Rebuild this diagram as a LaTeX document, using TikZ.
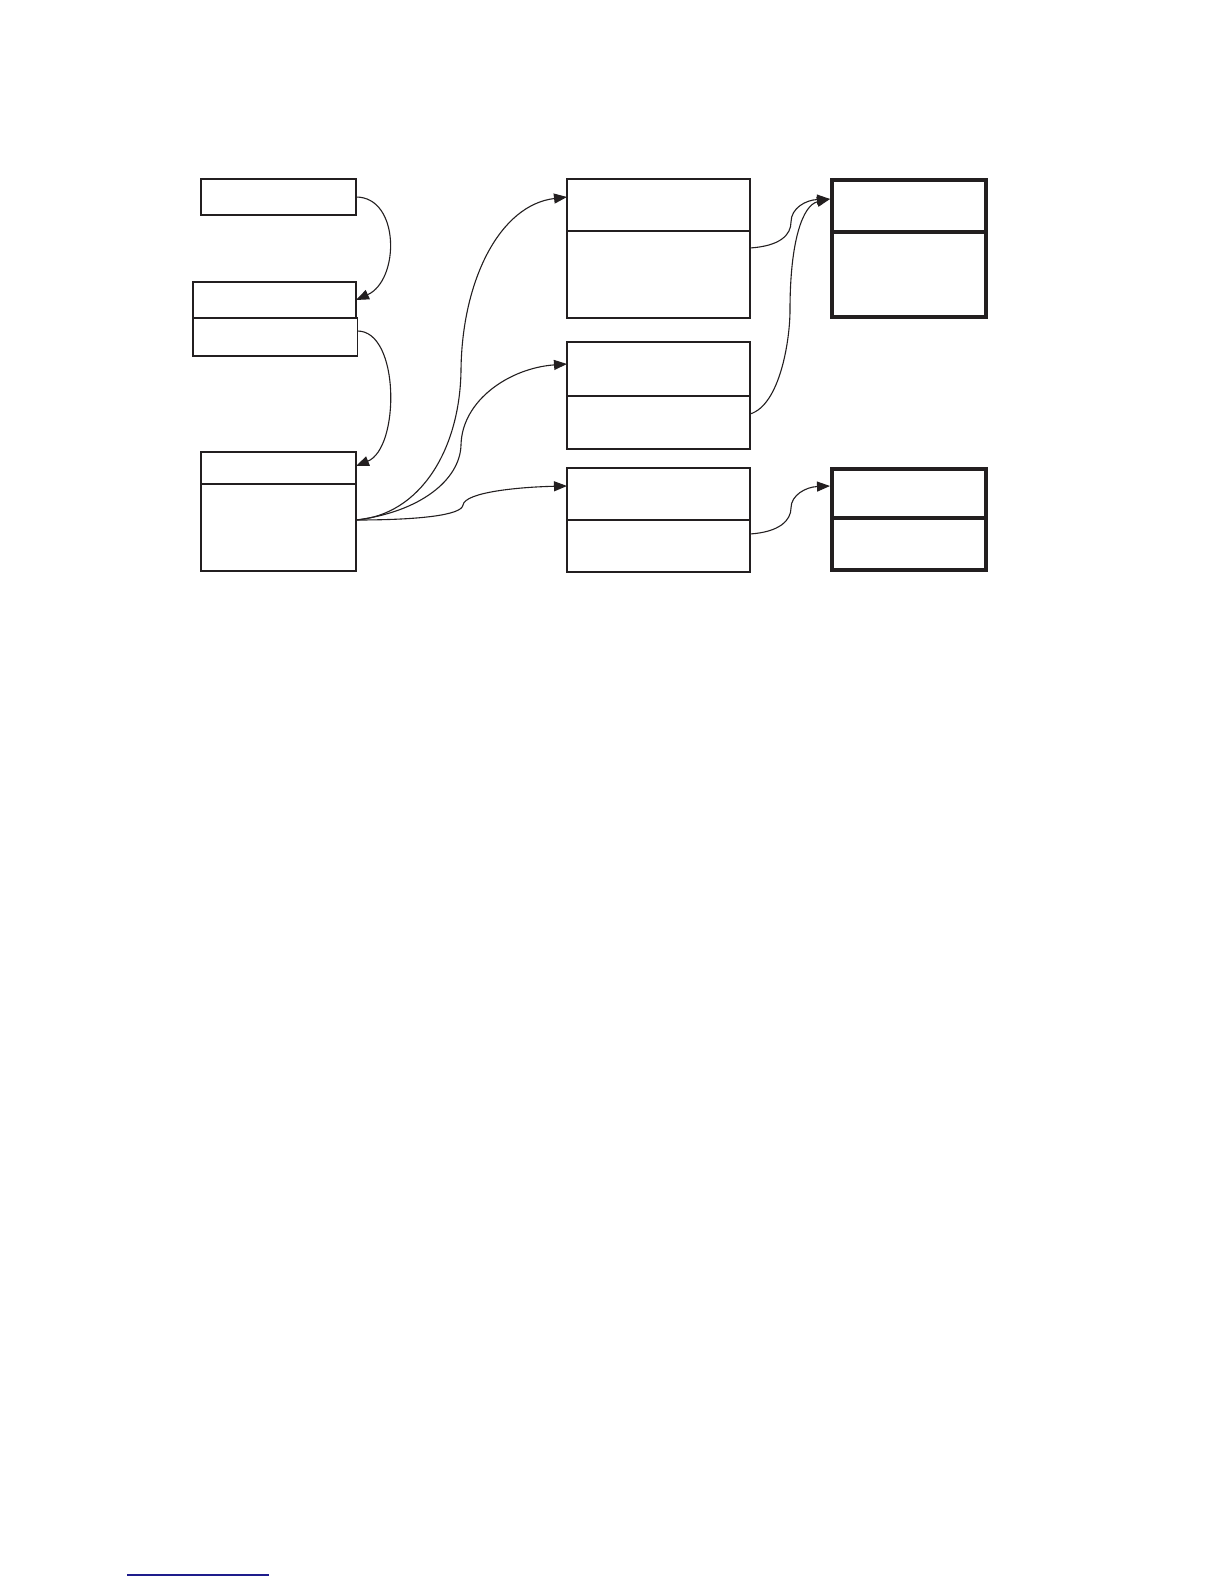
\documentclass[tikz,border=0pt]{standalone}
\usetikzlibrary{arrows.meta,calc}
\definecolor{ink}{RGB}{35,31,32}
\definecolor{rule}{RGB}{30,28,140}
\begin{document}
\begin{tikzpicture}[x=1pt,y=-1pt,
  box/.style={draw=ink,line width=1.4pt,inner sep=0pt,outer sep=0pt},
  thickbox/.style={draw=ink,line width=4.5pt,inner sep=0pt,outer sep=0pt},
  link/.style={draw=ink,line width=1.1pt,-{Triangle[length=13pt,width=10pt]}}]
\useasboundingbox[fill=white] (0,0) rectangle (1224,1584);
% left column
\node[box,minimum width=155pt,minimum height=36pt] (A) at (278.5,197) {};
\node[box,minimum width=163pt,minimum height=36pt] (B1) at (274.5,300) {};
\node[box,minimum width=164.5pt,minimum height=38pt] (B2) at (275.25,337) {};
\node[box,minimum width=155pt,minimum height=119pt] (C) at (278.5,511.5) {};
\draw[ink,line width=1.8pt] (C.west |- 0,484) -- (C.east |- 0,484);
% middle column
\node[box,minimum width=183pt,minimum height=139pt] (M1) at (658.5,248.5) {};
\draw[ink,line width=1.4pt] (M1.west |- 0,231) -- (M1.east |- 0,231);
\node[box,minimum width=183pt,minimum height=107pt] (M2) at (658.5,395.5) {};
\draw[ink,line width=1.4pt] (M2.west |- 0,396) -- (M2.east |- 0,396);
\node[box,minimum width=183pt,minimum height=104pt] (M3) at (658.5,520) {};
\draw[ink,line width=1.4pt] (M3.west |- 0,520) -- (M3.east |- 0,520);
% right column
\node[thickbox,minimum width=154pt,minimum height=137pt] (R1) at (909,248.5) {};
\draw[ink,line width=4pt] (R1.west |- 0,232) -- (R1.east |- 0,232);
\node[thickbox,minimum width=154pt,minimum height=101pt] (R2) at (909,519.5) {};
\draw[ink,line width=4pt] (R2.west |- 0,518) -- (R2.east |- 0,518);
% connector ends
\coordinate (b2out) at (B2.east |- 0,331);
\coordinate (cin) at (C.east |- 0,466);
\coordinate (cout) at (C.east |- 0,520);
\coordinate (m1in) at (M1.west |- 0,197);
\coordinate (m2in) at (M2.west |- 0,364);
\coordinate (m3in) at (M3.west |- 0,486);
\coordinate (m1out) at (M1.east |- 0,248);
\coordinate (m2out) at (M2.east |- 0,414);
\coordinate (m3out) at (M3.east |- 0,534);
\coordinate (r1in) at ($(R1.west |- 0,199)+(-2,0)$);
\coordinate (r2in) at ($(R2.west |- 0,486)+(-2,0)$);
% connectors
\draw[link] (A.east) .. controls (400,197) and (400,280) .. (B1.east);
\draw[link] (b2out) .. controls (400,331) and (400,448) .. (cin);
\draw[link] (cout) .. controls (420,515) and (460,450) .. (461,370)
  .. controls (462,280) and (500,205) .. (m1in);
\draw[link] (cout) .. controls (420,512) and (460,480) .. (461,445)
  .. controls (462,400) and (510,368) .. (m2in);
\draw[link] (cout) .. controls (420,520) and (462,515) .. (463,505)
  .. controls (465,492) and (520,487) .. (m3in);
\draw[link] (m1out) .. controls (780,246) and (791,235) .. (791,222)
  .. controls (791,208) and (806,200) .. (r1in);
\draw[link] (m2out) .. controls (780,405) and (790,340) .. (790,310)
  .. controls (790,240) and (803,205) .. (r1in);
\draw[link] (m3out) .. controls (780,532) and (791,520) .. (791,508)
  .. controls (791,495) and (806,487) .. (r2in);
% footnote rule
\draw[rule,line width=1.3pt] (127,1575) -- (269,1575);
\end{tikzpicture}
\end{document}
